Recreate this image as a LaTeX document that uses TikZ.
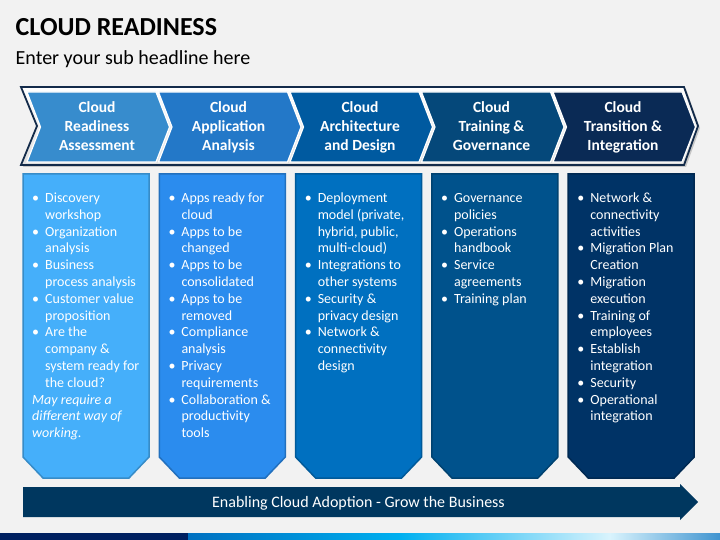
\documentclass[tikz,border=0pt]{standalone}
\usepackage{fontspec}
\setmainfont{Carlito}
\usepackage{xcolor}
\usepackage{tikz}

\definecolor{bgGray}{HTML}{F2F2F2}
\definecolor{bandLine}{HTML}{132B4A}
\definecolor{chevA}{HTML}{378CCD}
\definecolor{chevB}{HTML}{2378C8}
\definecolor{chevC}{HTML}{005AA0}
\definecolor{chevD}{HTML}{05487A}
\definecolor{chevE}{HTML}{0A2A55}
\definecolor{boxA}{HTML}{45AFFA}
\definecolor{boxB}{HTML}{2B8CEE}
\definecolor{boxC}{HTML}{0070C0}
\definecolor{boxD}{HTML}{00528C}
\definecolor{boxE}{HTML}{003366}
\definecolor{arrowNavy}{HTML}{00375F}
\definecolor{stripNavy}{HTML}{002060}
\definecolor{stripBlue}{HTML}{0070C0}
\definecolor{stripCyan}{HTML}{00B0F0}

\newcommand{\bl}{\makebox[13pt][l]{\textbullet}}
\newcommand{\nx}{\hspace*{13pt}}

\tikzset{
  headtext/.style={anchor=base, align=center, inner sep=0pt, text=white,
    font=\fontsize{15.5}{19}\selectfont\bfseries},
  itemtext/.style={anchor=base west, align=left, inner sep=0pt, text=white,
    font=\fontsize{14}{16.8}\selectfont},
  colbox/.style={line width=1.5pt}
}

\begin{document}
\begin{tikzpicture}[x=1pt, y=-1pt]

    % Page
    \useasboundingbox (0,0) rectangle (720,540);
    \fill[bgGray] (0,0) rectangle (720,540);

    % Headline
    \node[anchor=base west, inner sep=0pt, font=\fontsize{26}{30}\selectfont\bfseries] (title) at (15.5,36) {CLOUD READINESS};
    \node[anchor=base west, inner sep=0pt, font=\fontsize{20}{24}\selectfont] (subtitle) at (15.5,65) {Enter your sub headline here};

    % Chevron band: shadow and outline
    \fill[gray!45] (23,89) -- (686,89) -- (700,128) -- (686,167) -- (23,167) -- (39,128) -- cycle;
    \draw[bandLine, line width=1.8pt, top color=white, bottom color=gray!25]
        (21,87) -- (684,87) -- (698,126) -- (684,165) -- (21,165) -- (37,126) -- cycle;

    % Five chevrons, left top at 27 + 131.5 i (node base = last line)
    \foreach \i/\col/\txt in {0/chevA/{Cloud\\Readiness\\Assessment},
                              1/chevB/{Cloud\\Application\\Analysis},
                              2/chevC/{Cloud\\Architecture\\and Design},
                              3/chevD/{Cloud\\Training \&\\Governance},
                              4/chevE/{Cloud\\Transition \&\\Integration}} {
        \pgfmathsetmacro\L{27+131.5*\i}
        \pgfmathsetmacro\R{156+131.5*\i}
        \filldraw[fill=\col, draw=white, line width=1.2pt]
            (\L,92) -- (\R,92) -- (\R+13.5,127) -- (\R,162) -- (\L,162) -- (\L+13.5,127) -- cycle;
        \node[headtext] (head\i) at (97+131.5*\i,150.7) {\txt};
    }

    % Column boxes with cut bottom corners
    \foreach \i/\col in {0/boxA, 1/boxB, 2/boxC, 3/boxD, 4/boxE} {
        \pgfmathsetmacro\X{23+136.3*\i}
        \filldraw[colbox, fill=\col, draw=\col!80!black]
            (\X,174) -- (\X+126,174) -- (\X+126,457) -- (\X+106,478) -- (\X+20,478) -- (\X,457) -- cycle;
    }

    % Column texts: first baseline 202.5, 16.8 per line, anchored at the last line
    \node[itemtext] (items0) at (32,437.7) {\bl Discovery\\ \nx workshop\\ \bl Organization\\ \nx analysis\\
        \bl Business\\ \nx process analysis\\ \bl Customer value\\ \nx proposition\\ \bl Are the\\
        \nx company \&\\ \nx system ready for\\ \nx the cloud?\\ \textit{May require a}\\
        \textit{different way of}\\ \textit{working.}};
    \node[itemtext] (items1) at (168.3,437.7) {\bl Apps ready for\\ \nx cloud\\ \bl Apps to be\\ \nx changed\\
        \bl Apps to be\\ \nx consolidated\\ \bl Apps to be\\ \nx removed\\ \bl Compliance\\ \nx analysis\\
        \bl Privacy\\ \nx requirements\\ \bl Collaboration \&\\ \nx productivity\\ \nx tools};
    \node[itemtext] (items2) at (304.6,370.5) {\bl Deployment\\ \nx model (private,\\ \nx hybrid, public,\\
        \nx multi-cloud)\\ \bl Integrations to\\ \nx other systems\\ \bl Security \&\\ \nx privacy design\\
        \bl Network \&\\ \nx connectivity\\ \nx design};
    \node[itemtext] (items3) at (440.9,303.3) {\bl Governance\\ \nx policies\\ \bl Operations\\ \nx handbook\\
        \bl Service\\ \nx agreements\\ \bl Training plan};
    \node[itemtext] (items4) at (577.2,420.9) {\bl Network \&\\ \nx connectivity\\ \nx activities\\
        \bl Migration Plan\\ \nx Creation\\ \bl Migration\\ \nx execution\\ \bl Training of\\ \nx employees\\
        \bl Establish\\ \nx integration\\ \bl Security\\ \bl Operational\\ \nx integration};

    % Bottom arrow
    \fill[arrowNavy] (23,487) -- (680,487) -- (680,484) -- (698,502) -- (680,520) -- (680,517) -- (23,517) -- cycle;
    \node[anchor=base, inner sep=0pt, text=white, font=\fontsize{16}{19}\selectfont] (footer) at (358.5,507)
        {Enabling Cloud Adoption - Grow the Business};

    % Bottom strip
    \fill[stripNavy] (0,533) rectangle (188,540);
    \shade[left color=stripBlue, right color=stripCyan] (188,533) rectangle (400,540);
    \shade[left color=stripCyan, right color=white!85!stripCyan] (400,533) rectangle (610,540);
    \shade[left color=white!85!stripCyan, right color=stripBlue!75] (610,533) rectangle (720,540);

\end{tikzpicture}
\end{document}
